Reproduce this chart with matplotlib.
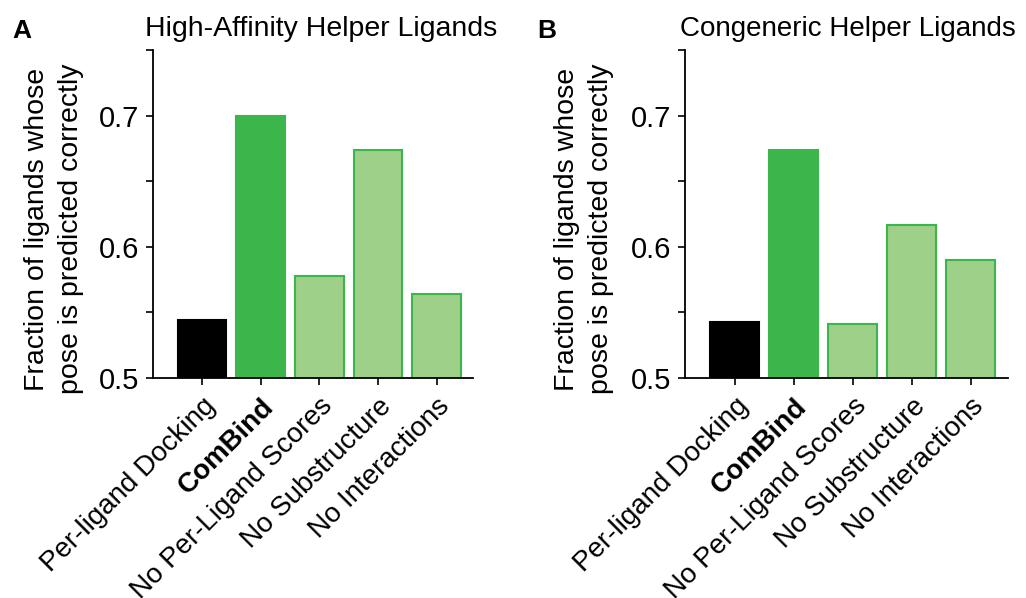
import matplotlib
matplotlib.use("Agg")
import matplotlib.pyplot as plt
import numpy as np

plt.rcParams['font.family'] = ['Liberation Sans', 'DejaVu Sans']

methods = ["Per-ligand Docking", "ComBind", "No Per-Ligand Scores",
           "No Substructure", "No Interactions"]
high_affinity = [0.544, 0.700, 0.578, 0.674, 0.564]
congeneric = [0.543, 0.674, 0.541, 0.617, 0.590]

dark_green = "#3cb54a"
light_green = "#9fd08a"
face_colors = ["black", dark_green, light_green, light_green, light_green]
edge_colors = ["black", dark_green, dark_green, dark_green, dark_green]

fig = plt.figure(figsize=(10.26, 5.98), dpi=100)
ax_a = fig.add_axes([0.149, 0.368, 0.312, 0.548])
ax_b = fig.add_axes([0.668, 0.368, 0.314, 0.548])


def draw_panel(ax, values, title, letter, label_x, title_x, title_size, letter_x):
    x = np.arange(len(methods))
    ax.bar(x, values, width=0.83, bottom=0, color=face_colors,
           edgecolor=edge_colors, linewidth=1.5)
    ax.set_ylim(0.5, 0.75)
    ax.set_xlim(-0.84, 4.62)
    ax.set_yticks(np.arange(0.5, 0.751, 0.05))
    ax.set_yticklabels(["0.5", "", "0.6", "", "0.7", ""])
    ax.set_xticks(x)
    ax.set_xticklabels(methods, rotation=45, ha="right", va="top",
                       rotation_mode="anchor")
    ax.get_xticklabels()[1].set_fontweight("bold")
    ax.tick_params(axis="both", length=5, width=1.2)
    ax.tick_params(axis="y", labelsize=21, pad=5)
    ax.tick_params(axis="x", labelsize=20, pad=6)
    for side in ["top", "right"]:
        ax.spines[side].set_visible(False)
    for side in ["left", "bottom"]:
        ax.spines[side].set_linewidth(1.3)
    ax.set_ylabel("Fraction of ligands whose\npose is predicted correctly",
                  fontsize=20.5, linespacing=1.4)
    ax.yaxis.set_label_coords(label_x, 0.454)
    ax.yaxis.label.set_va("center")
    ax.set_title(title, fontsize=title_size, pad=10, x=title_x)
    ax.text(letter_x, 1.058, letter, transform=ax.transAxes, fontsize=19,
            fontweight="bold", va="center")


draw_panel(ax_a, high_affinity, "High-Affinity Helper Ligands", "A",
           -0.31, 0.525, 20.5, -0.44)
draw_panel(ax_b, congeneric, "Congeneric Helper Ligands", "B",
           -0.316, 0.503, 20, -0.46)

fig.savefig("out.png", dpi=100)
